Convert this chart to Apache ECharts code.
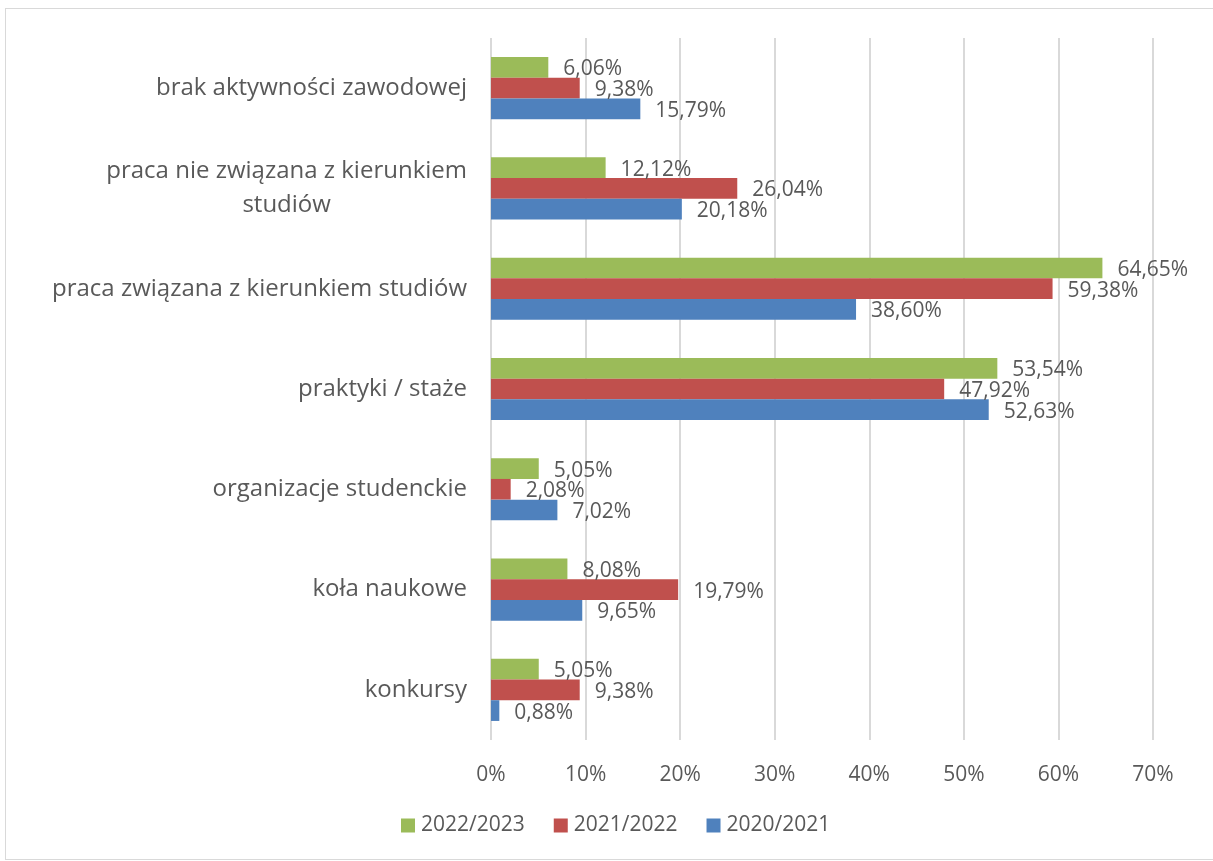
<!DOCTYPE html>
<html>
<head>
<meta charset="utf-8">
<script src="https://cdn.jsdelivr.net/npm/echarts@6/dist/echarts.min.js"></script>
<style>
  html, body { margin: 0; padding: 0; background: #fff; }
  #frame {
    position: absolute; left: 5px; top: 8px; width: 1300px; height: 852px;
    border: 1px solid #d9d9d9; box-sizing: border-box;
  }
  #chart { position: absolute; left: 0; top: 0; width: 1213px; height: 861px; }
</style>
</head>
<body>
<div id="frame"></div>
<div id="chart"></div>
<script>
// categories listed top to bottom
const categories = [
  'brak aktywności zawodowej',
  'praca nie związana z kierunkiem\nstudiów',
  'praca związana z kierunkiem studiów',
  'praktyki / staże',
  'organizacje studenckie',
  'koła naukowe',
  'konkursy'
]
const seriesNames = ['2022/2023', '2021/2022', '2020/2021']
const values2022 = [6.06, 12.12, 64.65, 53.54, 5.05, 8.08, 5.05]
const values2021 = [9.38, 26.04, 59.38, 47.92, 2.08, 19.79, 9.38]
const values2020 = [15.79, 20.18, 38.60, 52.63, 7.02, 9.65, 0.88]
const xTicks = [0, 10, 20, 30, 40, 50, 60, 70]

const colors = ['#9bbb59', '#c0504d', '#4f81bd']
const textColor = '#595959'
const font = '"Open Sans", "Noto Sans", sans-serif'

const chart = echarts.init(document.getElementById('chart'))

const makeSeries = (name, data, color) => ({
  name,
  type: 'bar',
  data,
  barGap: '0%',
  barCategoryGap: '38%',
  itemStyle: { color },
  label: {
    show: true,
    position: 'right',
    distance: 15,
    offset: [0, 2],
    color: textColor,
    fontFamily: font,
    fontSize: 21,
    formatter: (p) => p.value.toFixed(2).replace('.', ',') + '%',
  },
})

const option = {
  animation: false,
  textStyle: { fontFamily: font },
  grid: { left: 491, right: 60, top: 38, bottom: 121, containLabel: false },
  legend: {
    data: seriesNames,
    bottom: 20,
    left: 396,
    itemWidth: 14,
    itemHeight: 14,
    itemGap: 29,
    icon: 'rect',
    textStyle: { color: textColor, fontSize: 21, fontFamily: font, padding: [0, 0, 0, 1] },
  },
  xAxis: {
    type: 'value',
    min: xTicks[0],
    max: xTicks[xTicks.length - 1],
    interval: 10,
    axisLine: { show: false },
    axisTick: { show: false },
    splitLine: { lineStyle: { color: '#d9d9d9', width: 2 } },
    axisLabel: {
      color: textColor,
      fontSize: 21,
      fontFamily: font,
      margin: 25,
      formatter: '{value}%',
    },
  },
  yAxis: {
    type: 'category',
    data: categories,
    inverse: true,
    axisLine: { show: false },
    axisTick: { show: false },
    axisLabel: {
      color: textColor,
      fontSize: 24,
      fontFamily: font,
      margin: 24,
      lineHeight: 34,
      formatter: (v) => v.split('\n').map((s) => '{c|' + s + '}').join('\n'),
      rich: {
        c: { align: 'center', color: textColor, fontSize: 24, fontFamily: font, lineHeight: 34 },
      },
    },
  },
  series: [
    makeSeries(seriesNames[0], values2022, colors[0]),
    makeSeries(seriesNames[1], values2021, colors[1]),
    makeSeries(seriesNames[2], values2020, colors[2]),
  ],
}

chart.setOption(option)
</script>
</body>
</html>
